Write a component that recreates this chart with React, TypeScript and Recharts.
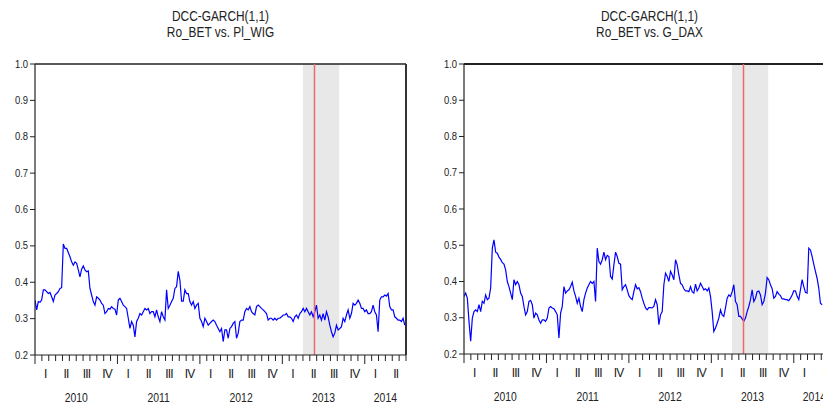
import React from "react";
import {
  LineChart,
  Line,
  XAxis,
  YAxis,
  ReferenceArea,
  ReferenceLine,
} from "recharts";

const FONT = "'Liberation Sans', Arial, sans-serif";
const INK = "#222";

const START_YEAR = 2010;
const END_YEAR = 2014.5;
// one reading about every 7.4 days
const SAMPLE_STEP = 1 / 49.5;

// conditional correlation Ro_BET vs Pl_WIG
const betWig = [
  0.351, 0.324, 0.347, 0.345, 0.351, 0.379, 0.379, 0.374, 0.369, 0.372,
  0.36, 0.347, 0.365, 0.369, 0.374, 0.383, 0.385, 0.505, 0.493, 0.493,
  0.482, 0.47, 0.456, 0.447, 0.456, 0.452, 0.434, 0.415, 0.436, 0.445,
  0.434, 0.429, 0.431, 0.383, 0.365, 0.347, 0.337, 0.36, 0.356, 0.351,
  0.342, 0.337, 0.314, 0.319, 0.328, 0.326, 0.333, 0.328, 0.326, 0.31,
  0.351, 0.356, 0.347, 0.337, 0.333, 0.328, 0.301, 0.273, 0.292, 0.282,
  0.25, 0.292, 0.301, 0.314, 0.31, 0.319, 0.328, 0.324, 0.328, 0.314,
  0.319, 0.319, 0.305, 0.324, 0.305,
  0.292, 0.319, 0.305, 0.296, 0.379, 0.328, 0.337, 0.347, 0.356, 0.383,
  0.388, 0.43, 0.406, 0.348, 0.348, 0.379, 0.369, 0.369, 0.347, 0.337,
  0.347, 0.328, 0.337, 0.342, 0.301, 0.292, 0.278, 0.301, 0.292, 0.282,
  0.287, 0.292, 0.296, 0.292, 0.282, 0.273, 0.264, 0.273, 0.237, 0.269,
  0.269, 0.246, 0.273, 0.278, 0.287, 0.292, 0.246, 0.26, 0.292, 0.296,
  0.296, 0.319, 0.328, 0.324, 0.333, 0.319, 0.314, 0.31, 0.333, 0.337,
  0.333, 0.328, 0.324, 0.319, 0.314, 0.296, 0.301, 0.301, 0.296, 0.301,
  0.296, 0.301, 0.301, 0.305, 0.31,
  0.31, 0.314, 0.305, 0.305, 0.301, 0.292, 0.305, 0.31, 0.301, 0.314,
  0.319, 0.328, 0.319, 0.328, 0.319, 0.31, 0.319, 0.305, 0.319, 0.337,
  0.301, 0.31, 0.296, 0.314, 0.296, 0.319, 0.305, 0.282, 0.264, 0.25,
  0.26, 0.282, 0.269, 0.273, 0.278, 0.301, 0.292, 0.31, 0.324, 0.301,
  0.314, 0.342, 0.337, 0.342, 0.351, 0.342, 0.328, 0.328, 0.319, 0.324,
  0.314, 0.314, 0.319, 0.337, 0.319, 0.31, 0.264, 0.351, 0.36, 0.36,
  0.365, 0.362, 0.369, 0.333, 0.324, 0.324, 0.305, 0.301, 0.296, 0.296,
  0.292, 0.301, 0.282,
];

// conditional correlation Ro_BET vs G_DAX
const betDax = [
  0.359, 0.368, 0.354, 0.29, 0.235, 0.299, 0.317, 0.322, 0.317, 0.336,
  0.317, 0.345, 0.34, 0.363, 0.35, 0.354, 0.382, 0.492, 0.515, 0.481,
  0.478, 0.467, 0.461, 0.452, 0.448, 0.432, 0.4, 0.386, 0.368, 0.35,
  0.405, 0.391, 0.4, 0.391, 0.368, 0.359, 0.331, 0.308, 0.317, 0.345,
  0.348, 0.336, 0.299, 0.313, 0.308, 0.294, 0.285, 0.294, 0.294, 0.29,
  0.299, 0.327, 0.331, 0.327, 0.325, 0.317, 0.308, 0.244, 0.313, 0.331,
  0.386, 0.368, 0.374, 0.377, 0.386, 0.398, 0.374, 0.359, 0.34, 0.354,
  0.331, 0.317, 0.35, 0.368, 0.382, 0.391,
  0.4, 0.395, 0.4, 0.345, 0.492, 0.455, 0.448, 0.46, 0.481, 0.46,
  0.472, 0.469, 0.414, 0.407, 0.446, 0.481, 0.469, 0.45, 0.448, 0.377,
  0.386, 0.391, 0.377, 0.361, 0.354, 0.35, 0.372, 0.391, 0.38, 0.383,
  0.372, 0.354, 0.34, 0.327, 0.322, 0.328, 0.328, 0.327, 0.331, 0.35,
  0.336, 0.281, 0.308, 0.317, 0.391, 0.423, 0.414, 0.4, 0.428, 0.418,
  0.405, 0.46, 0.446, 0.418, 0.395, 0.391, 0.38, 0.374, 0.374, 0.372,
  0.386, 0.372, 0.368, 0.393, 0.374, 0.382, 0.395, 0.386, 0.377, 0.38,
  0.374, 0.382, 0.359,
  0.317, 0.262, 0.272, 0.285, 0.299, 0.322, 0.308, 0.304, 0.327, 0.354,
  0.363, 0.359, 0.372, 0.391, 0.345, 0.336, 0.304, 0.304, 0.297, 0.29,
  0.299, 0.317, 0.331, 0.35, 0.377, 0.345, 0.354, 0.372, 0.374, 0.363,
  0.336, 0.345, 0.368, 0.411, 0.405, 0.391, 0.38, 0.354, 0.359, 0.372,
  0.365, 0.361, 0.352, 0.352, 0.35, 0.35, 0.347, 0.354, 0.363, 0.374,
  0.374, 0.359, 0.35, 0.377, 0.405, 0.386, 0.37, 0.368, 0.492, 0.487,
  0.469, 0.448, 0.428, 0.409, 0.382, 0.34, 0.336,
];

const yTicks = [0.2, 0.3, 0.4, 0.5, 0.6, 0.7, 0.8, 0.9, 1.0];
const quarterLabels = ["I", "II", "III", "IV"];
const years = [2010, 2011, 2012, 2013, 2014];

// shaded window and event marker (fractional years)
const shadeStart = 2013.25;
const shadeEnd = 2013.69;
const eventDate = 2013.39;

const toRows = (values: number[]) =>
  values.map((v, i) => ({ t: START_YEAR + i * SAMPLE_STEP, v }));

type TickInfo = { mark?: "month" | "year"; roman?: string; year?: string };
const tickKey = (t: number) => t.toFixed(4);
const tickInfo = new Map<string, TickInfo>();
function addTick(t: number, info: TickInfo) {
  const k = tickKey(t);
  tickInfo.set(k, { ...tickInfo.get(k), ...info });
}
for (let m = 0; m <= 54; m++) {
  addTick(START_YEAR + m / 12, { mark: m % 12 === 0 ? "year" : "month" });
}
years.forEach((y) => {
  quarterLabels.forEach((q, i) => {
    const t = y + (i * 3 + 1.5) / 12;
    if (t < END_YEAR) addTick(t, { roman: q });
  });
  addTick((y + Math.min(y + 1, END_YEAR)) / 2, { year: String(y) });
});
const xTicks = Array.from(tickInfo.keys())
  .map(Number)
  .sort((a, b) => a - b);

function NarrowText({ x, y, size, sx, anchor = "middle", children }: any) {
  return (
    <text
      transform={`translate(${x},${y}) scale(${sx},1)`}
      textAnchor={anchor}
      fontSize={size}
      fontFamily={FONT}
      fill={INK}
    >
      {children}
    </text>
  );
}

function XTick(props: any) {
  const { x, y, payload } = props;
  const info = tickInfo.get(tickKey(payload.value));
  if (!info) return <g />;
  return (
    <g>
      {info.mark && (
        <line
          x1={x}
          x2={x}
          y1={y}
          y2={y + (info.mark === "year" ? 9 : 6)}
          stroke={INK}
        />
      )}
      {info.roman && (
        <text
          x={x}
          y={y + 23}
          textAnchor="middle"
          fontSize={12}
          letterSpacing={-0.8}
          fontFamily={FONT}
          fill={INK}
        >
          {info.roman}
        </text>
      )}
      {info.year && (
        <NarrowText x={x} y={y + 47} size={13.5} sx={0.77}>
          {info.year}
        </NarrowText>
      )}
    </g>
  );
}

function YTick(props: any) {
  const { x, y, payload } = props;
  return (
    <NarrowText x={x} y={y + 3.5} size={10.5} sx={0.9} anchor="end">
      {payload.value.toFixed(1)}
    </NarrowText>
  );
}

function Panel({
  values,
  width,
  margin,
  axisHeight,
  rightBorder,
}: {
  values: number[];
  width: number;
  margin: { top: number; right: number; bottom: number; left: number };
  axisHeight: number;
  rightBorder: boolean;
}) {
  return (
    <LineChart width={width} height={406} data={toRows(values)} margin={margin}>
      <XAxis
        dataKey="t"
        type="number"
        domain={[START_YEAR, END_YEAR]}
        ticks={xTicks}
        interval={0}
        tick={XTick}
        tickLine={false}
        tickSize={0}
        tickMargin={0}
        height={axisHeight}
        axisLine={{ stroke: INK, strokeWidth: 1.2 }}
        allowDataOverflow
      />
      <YAxis
        type="number"
        domain={[0.2, 1]}
        ticks={yTicks}
        interval={0}
        width={35}
        tickSize={5}
        tickMargin={2}
        tick={YTick}
        tickLine={{ stroke: INK }}
        axisLine={{ stroke: INK, strokeWidth: 1.2 }}
        allowDataOverflow
      />
      <ReferenceArea
        x1={shadeStart}
        x2={shadeEnd}
        fill="#e8e8e8"
        fillOpacity={1}
        stroke="none"
      />
      <ReferenceLine y={1} stroke={INK} strokeWidth={rightBorder ? 1.5 : 2} />
      {rightBorder && (
        <ReferenceLine x={END_YEAR} stroke="#333" strokeWidth={2} />
      )}
      <Line
        dataKey="v"
        type="linear"
        stroke="#0000ff"
        strokeWidth={1.2}
        dot={false}
        isAnimationActive={false}
      />
      <ReferenceLine x={eventDate} stroke="#f06868" strokeWidth={1.5} />
    </LineChart>
  );
}

export default function App() {
  return (
    <div
      style={{
        position: "absolute",
        left: 0,
        top: 0,
        width: 823,
        height: 406,
        overflow: "hidden",
        background: "#fff",
      }}
    >
      <div style={{ position: "absolute", left: 0, top: 0 }}>
        <Panel
          values={betWig}
          width={420}
          margin={{ top: 64, right: 14, bottom: 0, left: 0 }}
          axisHeight={51}
          rightBorder
        />
      </div>
      <div style={{ position: "absolute", left: 420, top: 0 }}>
        <Panel
          values={betDax}
          width={430}
          margin={{ top: 64, right: 15, bottom: 0, left: 9 }}
          axisHeight={52}
          rightBorder={false}
        />
      </div>
      <svg
        width={823}
        height={45}
        style={{ position: "absolute", left: 0, top: 0 }}
      >
        <NarrowText x={220.5} y={21} size={14.5} sx={0.82}>
          DCC-GARCH(1,1)
        </NarrowText>
        <NarrowText x={220.5} y={37} size={14.5} sx={0.82}>
          Ro_BET vs. Pl_WIG
        </NarrowText>
        <NarrowText x={649.5} y={21} size={14.5} sx={0.82}>
          DCC-GARCH(1,1)
        </NarrowText>
        <NarrowText x={649.5} y={37} size={14.5} sx={0.82}>
          Ro_BET vs. G_DAX
        </NarrowText>
      </svg>
    </div>
  );
}
